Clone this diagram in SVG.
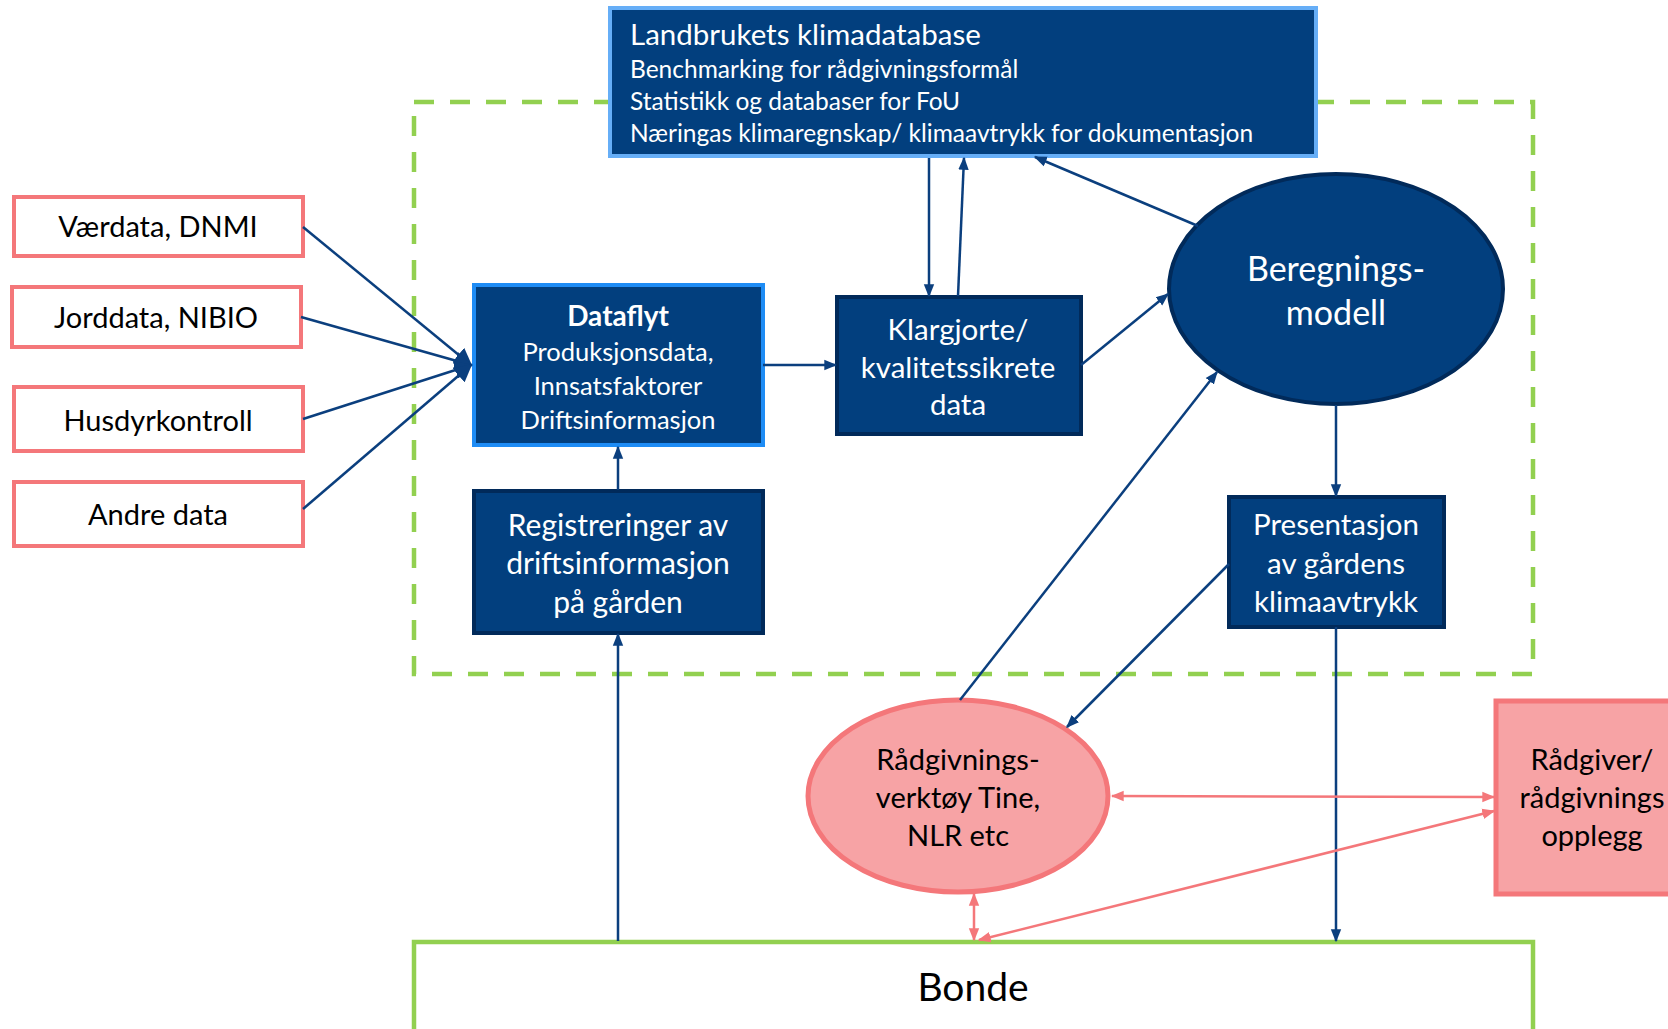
<svg xmlns="http://www.w3.org/2000/svg" width="1668" height="1029" viewBox="0 0 1668 1029">
<style>
text{font-family:Lato,"Open Sans","Liberation Sans",sans-serif}
.dark{fill:#023F7E;stroke:#012A5A;stroke-width:4}
.wt{fill:#fff;text-anchor:middle}
.src{fill:#fff;stroke:#F4777A;stroke-width:4}
.bt{fill:#000;text-anchor:middle;font-size:29px}
.cn{stroke:#0B3F7E;stroke-width:2.5;fill:none}
.pk{stroke:#F4777A;stroke-width:2.5;fill:none}
</style>
<defs>
<marker id="ab" viewBox="0 0 10 10" refX="9" refY="5" markerWidth="13" markerHeight="13" orient="auto-start-reverse" markerUnits="userSpaceOnUse"><path d="M0,1L10,5L0,9z" fill="#0B3F7E"/></marker>
<marker id="abig" viewBox="0 0 10 10" refX="9" refY="5" markerWidth="18" markerHeight="18" orient="auto" markerUnits="userSpaceOnUse"><path d="M0,0L10,5L0,10z" fill="#0B3F7E"/></marker>
<marker id="ap" viewBox="0 0 10 10" refX="9" refY="5" markerWidth="13" markerHeight="13" orient="auto-start-reverse" markerUnits="userSpaceOnUse"><path d="M0,1L10,5L0,9z" fill="#F4777A"/></marker>
</defs>

<g id="container">
<rect x="414" y="102" width="1119" height="572" fill="none" stroke="#92D050" stroke-width="4.5" stroke-dasharray="20,16"/>
</g>

<g id="bonde">
<rect x="414" y="942" width="1119" height="120" fill="#fff" stroke="#92D050" stroke-width="4.5"/>
<text x="973" y="1001" text-anchor="middle" font-size="39" fill="#000">Bonde</text>
</g>

<g id="klimadatabase">
<rect x="610" y="8" width="706" height="148" fill="#023F7E" stroke="#66AEF7" stroke-width="4"/>
<text x="630" y="45" font-size="29.5" fill="#fff">Landbrukets klimadatabase</text>
<text x="630" y="78" font-size="24.5" fill="#fff">Benchmarking for rådgivningsformål</text>
<text x="630" y="110" font-size="24.5" fill="#fff">Statistikk og databaser for FoU</text>
<text x="630" y="142" font-size="24.5" fill="#fff">Næringas klimaregnskap/ klimaavtrykk for dokumentasjon</text>
</g>

<g id="vaerdata"><rect class="src" x="14" y="197" width="289" height="59"/><text class="bt" x="158" y="237">Værdata, DNMI</text></g>
<g id="jorddata"><rect class="src" x="12" y="287" width="289" height="60"/><text class="bt" x="156" y="328">Jorddata, NIBIO</text></g>
<g id="husdyr"><rect class="src" x="14" y="387" width="289" height="64"/><text class="bt" x="158" y="431">Husdyrkontroll</text></g>
<g id="andre"><rect class="src" x="14" y="482" width="289" height="64"/><text class="bt" x="158" y="525">Andre data</text></g>

<g id="dataflyt">
<rect x="474" y="285" width="289" height="160" fill="#023F7E" stroke="#1E8CF5" stroke-width="4"/>
<text class="wt" x="618" y="326" font-size="28" font-weight="bold">Dataflyt</text>
<text class="wt" x="618" y="361" font-size="25.5">Produksjonsdata,</text>
<text class="wt" x="618" y="395" font-size="25.5">Innsatsfaktorer</text>
<text class="wt" x="618" y="429" font-size="25.5">Driftsinformasjon</text>
</g>

<g id="registreringer">
<rect class="dark" x="474" y="491" width="289" height="142"/>
<text class="wt" x="618" y="536" font-size="30">Registreringer av</text>
<text class="wt" x="618" y="574" font-size="30">driftsinformasjon</text>
<text class="wt" x="618" y="613" font-size="30">på gården</text>
</g>

<g id="klargjorte">
<rect class="dark" x="837" y="297" width="244" height="137"/>
<text class="wt" x="958" y="340" font-size="29.5">Klargjorte/</text>
<text class="wt" x="958" y="378" font-size="29.5">kvalitetssikrete</text>
<text class="wt" x="958" y="415" font-size="29.5">data</text>
</g>

<g id="beregning">
<ellipse cx="1336" cy="289" rx="167" ry="115" fill="#023F7E" stroke="#012A5A" stroke-width="4"/>
<text class="wt" x="1336" y="281" font-size="34">Beregnings-</text>
<text class="wt" x="1336" y="325" font-size="34">modell</text>
</g>

<g id="presentasjon">
<rect class="dark" x="1229" y="497" width="215" height="130"/>
<text class="wt" x="1336" y="535" font-size="29.5">Presentasjon</text>
<text class="wt" x="1336" y="574" font-size="29.5">av gårdens</text>
<text class="wt" x="1336" y="612" font-size="29.5">klimaavtrykk</text>
</g>

<g id="raadgivningsverktoy">
<ellipse cx="958" cy="796" rx="150" ry="96" fill="#F7A3A5" stroke="#F4777A" stroke-width="5"/>
<text class="bt" x="958" y="770">Rådgivnings-</text>
<text class="bt" x="958" y="808">verktøy Tine,</text>
<text class="bt" x="958" y="846">NLR etc</text>
</g>

<g id="raadgiver">
<rect x="1496" y="701" width="190" height="193" fill="#F7A3A5" stroke="#F4777A" stroke-width="5"/>
<text class="bt" x="1592" y="770">Rådgiver/</text>
<text class="bt" x="1592" y="808">rådgivnings</text>
<text class="bt" x="1592" y="846">opplegg</text>
</g>

<g id="connectors">
<line class="cn" x1="303" y1="227" x2="471" y2="365" marker-end="url(#abig)"/>
<line class="cn" x1="301" y1="317" x2="471" y2="365" marker-end="url(#abig)"/>
<line class="cn" x1="303" y1="419" x2="471" y2="365" marker-end="url(#abig)"/>
<line class="cn" x1="303" y1="509" x2="471" y2="365" marker-end="url(#abig)"/>
<line class="cn" x1="763" y1="365" x2="836" y2="365" marker-end="url(#ab)"/>
<line class="cn" x1="618" y1="490" x2="618" y2="447" marker-end="url(#ab)"/>
<line class="cn" x1="929" y1="158" x2="929" y2="296" marker-end="url(#ab)"/>
<line class="cn" x1="958" y1="296" x2="964" y2="158" marker-end="url(#ab)"/>
<line class="cn" x1="1198" y1="226" x2="1035" y2="157" marker-end="url(#ab)"/>
<line class="cn" x1="1081" y1="365" x2="1168" y2="294" marker-end="url(#ab)"/>
<line class="cn" x1="960" y1="700" x2="1217" y2="372" marker-end="url(#ab)"/>
<line class="cn" x1="1336" y1="405" x2="1336" y2="496" marker-end="url(#ab)"/>
<line class="cn" x1="1229" y1="564" x2="1067" y2="727" marker-end="url(#ab)"/>
<line class="cn" x1="1336" y1="627" x2="1336" y2="941" marker-end="url(#ab)"/>
<line class="cn" x1="618" y1="941" x2="618" y2="634" marker-end="url(#ab)"/>
<line class="pk" x1="1112" y1="796" x2="1494" y2="797" marker-start="url(#ap)" marker-end="url(#ap)"/>
<line class="pk" x1="974" y1="894" x2="974" y2="940" marker-start="url(#ap)" marker-end="url(#ap)"/>
<line class="pk" x1="1494" y1="811" x2="979" y2="940" marker-start="url(#ap)" marker-end="url(#ap)"/>
</g>
</svg>
